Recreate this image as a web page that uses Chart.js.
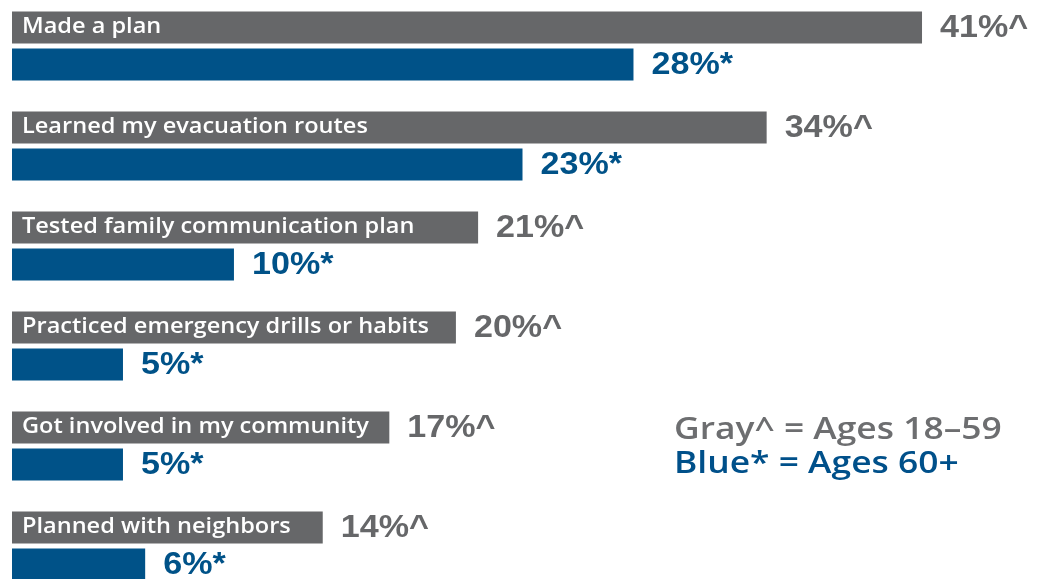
<!DOCTYPE html>
<html>
<head>
<meta charset="utf-8">
<script src="https://cdn.jsdelivr.net/npm/chart.js@4"></script>
<style>
  html, body { margin: 0; padding: 0; background: #fff; overflow: hidden; width: 1053px; height: 579px; }
  #wrap { position: absolute; left: 0; top: -4px; width: 1053px; height: 600px; }
  .key { position: absolute; left: 674px; font-family: "Open Sans", sans-serif; font-weight: 600; font-size: 30px; white-space: nowrap; transform: scaleX(1.18); transform-origin: 0 0; }
  #k1 { top: 407px; color: #6d6e70; }
  #k2 { top: 441px; color: #00508a; }
</style>
</head>
<body>
<div id="wrap"><canvas id="grafico"></canvas></div>
<div class="key" id="k1">Gray^ = Ages 18–59</div>
<div class="key" id="k2">Blue* = Ages 60+</div>
<script>
const acciones = [
    'Made a plan',
    'Learned my evacuation routes',
    'Tested family communication plan',
    'Practiced emergency drills or habits',
    'Got involved in my community',
    'Planned with neighbors'
];
const edad18a59 = [41, 34, 21, 20, 17, 14];
const edad60mas = [28, 23, 10, 5, 5, 6];
const marcas = ['^', '*'];

const gris = '#666769';
const azul = '#005288';

// texto algo ensanchado, como en la imagen original
function texto(ctx, str, x, y, ancho) {
    ctx.save();
    ctx.translate(x, y);
    ctx.scale(ancho, 1);
    ctx.fillText(str, 0, 0);
    ctx.restore();
}

const etiquetas = {
    id: 'etiquetas',
    afterDatasetsDraw(chart) {
        const ctx = chart.ctx;
        ctx.save();
        ctx.textBaseline = 'middle';
        ctx.textAlign = 'left';
        chart.data.datasets.forEach((ds, d) => {
            const meta = chart.getDatasetMeta(d);
            meta.data.forEach((bar, i) => {
                if (d === 0) {
                    ctx.fillStyle = '#ffffff';
                    ctx.font = '600 22px "Open Sans"';
                    texto(ctx, acciones[i], bar.base + 10, bar.y - 1, 1.07);
                }
                ctx.fillStyle = d === 0 ? gris : azul;
                ctx.font = 'bold 31px "Liberation Sans"';
                texto(ctx, ds.data[i] + '%' + marcas[d], bar.x + 18, bar.y + 1, 1.1);
            });
        });
        ctx.restore();
    }
};

const ctx = document.getElementById('grafico').getContext('2d');
const grafico = new Chart(ctx, {
    type: 'bar',
    data: {
        labels: acciones,
        datasets: [
            { label: 'Ages 18-59', data: edad18a59, backgroundColor: gris },
            { label: 'Ages 60+', data: edad60mas, backgroundColor: azul }
        ]
    },
    options: {
        indexAxis: 'y',
        responsive: true,
        maintainAspectRatio: false,
        animation: false,
        categoryPercentage: 0.74,
        barPercentage: 0.865,
        layout: { padding: { left: 12, right: 20, top: 0, bottom: 0 } },
        scales: {
            x: { display: false, min: 0, max: 46 },
            y: { display: false }
        },
        plugins: {
            legend: { display: false },
            tooltip: { enabled: false }
        }
    },
    plugins: [etiquetas]
});
</script>
</body>
</html>
